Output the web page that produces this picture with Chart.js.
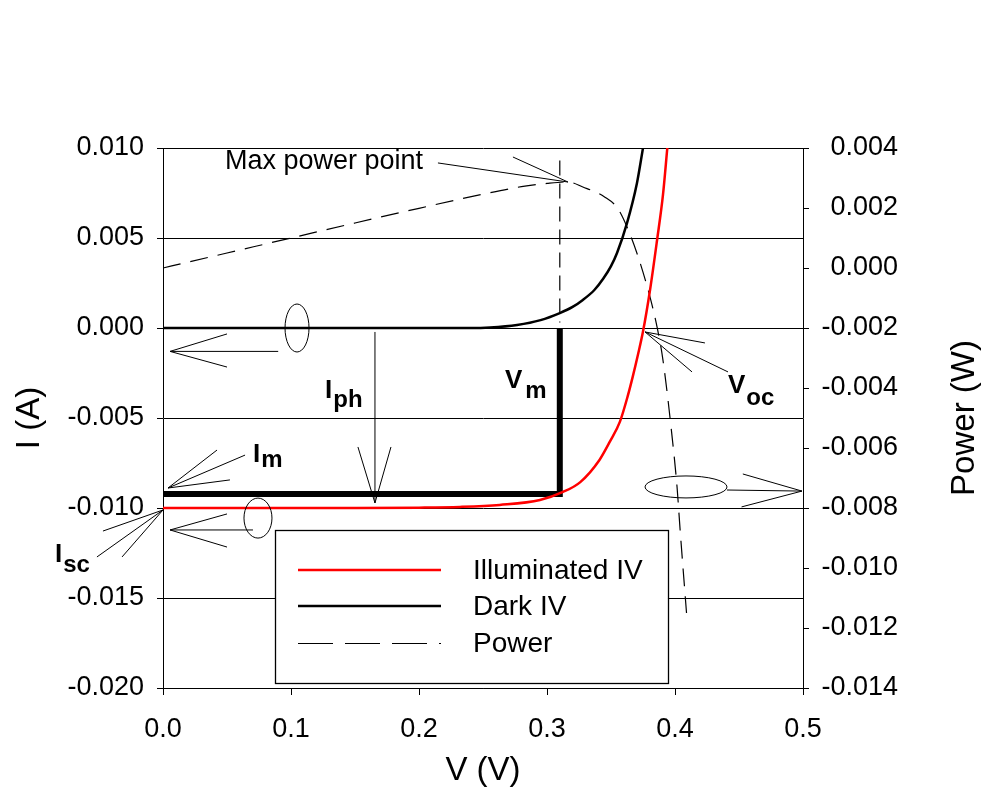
<!DOCTYPE html>
<html><head><meta charset="utf-8">
<script src="https://cdn.jsdelivr.net/npm/chart.js@4/dist/chart.umd.min.js"></script>
<style>html,body{margin:0;padding:0;background:#fff}canvas{display:block}</style>
</head><body>
<canvas id="c" width="983" height="792"></canvas>
<script>
// ---------- data ----------
const vIllum = [0, 0.05, 0.10, 0.15, 0.20, 0.232, 0.263, 0.2945, 0.3125, 0.326, 0.341, 0.349, 0.357, 0.363, 0.367, 0.371, 0.375, 0.3805, 0.386, 0.3906, 0.394];
const iIllum = [-0.0100, -0.0100, -0.0100, -0.0100, -0.00998, -0.00994, -0.00983, -0.00956, -0.00911, -0.00856, -0.00733, -0.00633, -0.00520, -0.00380, -0.00270, -0.00150, -0.00020, 0.00211, 0.00489, 0.00739, 0.0100];

const vDark = [0, 0.05, 0.10, 0.15, 0.20, 0.24, 0.2555, 0.2766, 0.295, 0.310, 0.320, 0.328, 0.337, 0.344, 0.350, 0.3547, 0.3625, 0.3703, 0.375];
const iDark = [0, 0, 0, 0, 0, 0, 0.00003, 0.00017, 0.00044, 0.00083, 0.00117, 0.00156, 0.00211, 0.00275, 0.00344, 0.00417, 0.00583, 0.00806, 0.0100];

const vPower = [0, 0.05, 0.10, 0.15, 0.20, 0.25, 0.28, 0.30, 0.316, 0.328, 0.345, 0.355, 0.3625, 0.371, 0.3805, 0.386, 0.3906, 0.398, 0.4016, 0.404, 0.409];
const pPower = [0, 0.00050, 0.00100, 0.00150, 0.00199, 0.00246, 0.00271, 0.00282, 0.00287, 0.00270, 0.00237, 0.00200, 0.00137, 0.00040, -0.00097, -0.00197, -0.00307, -0.00573, -0.00730, -0.00873, -0.01150];

const vMaxRect = [0, 0.31, 0.31];
const iMaxRect = [-0.00922, -0.00922, 0.0];
const vMaxGuide = [0.31, 0.31];
const iMaxGuide = [0.0093, 0.0003];

const seriesNames = ['Illuminated IV', 'Dark IV', 'Power'];

const vTicks = [0, 0.1, 0.2, 0.3, 0.4, 0.5];
const vTickLabels = ['0.0', '0.1', '0.2', '0.3', '0.4', '0.5'];
const iTicks = [-0.020, -0.015, -0.010, -0.005, 0.000, 0.005, 0.010];
const iTickLabels = ['-0.020', '-0.015', '-0.010', '-0.005', '0.000', '0.005', '0.010'];
const pTicks = [-0.014, -0.012, -0.010, -0.008, -0.006, -0.004, -0.002, 0.000, 0.002, 0.004];
const pTickLabels = ['-0.014', '-0.012', '-0.010', '-0.008', '-0.006', '-0.004', '-0.002', '0.000', '0.002', '0.004'];

const axisTitles = { x: 'V (V)', y: 'I (A)', y2: 'Power (W)' };

// ---------- annotations (anchors in data units: [V, I]) ----------
const leaderLines = [
  [[0.090, -0.0013], [0.0055, -0.0013]], [[0.050, -0.00033], [0.0055, -0.0013]], [[0.050, -0.00217], [0.0055, -0.0013]],
  [[0.0703, -0.01122], [0.0055, -0.01122]], [[0.050, -0.01033], [0.0055, -0.01122]], [[0.050, -0.01217], [0.0055, -0.01122]],
  [[0.4406, -0.0090], [0.4992, -0.00906]], [[0.453, -0.00811], [0.4992, -0.00906]], [[0.452, -0.00994], [0.4992, -0.00906]],
  [[0.1656, -0.00022], [0.1656, -0.00972]], [[0.1523, -0.00661], [0.1656, -0.00972]], [[0.1781, -0.00661], [0.1656, -0.00972]],
  [[0.2148, 0.00917], [0.3164, 0.00811]], [[0.2734, 0.0095], [0.3164, 0.00811]],
  [[0.0641, -0.00706], [0.0039, -0.00889]], [[0.0422, -0.00678], [0.0039, -0.00889]], [[0.0523, -0.00844], [0.0039, -0.00889]],
  [[-0.0516, -0.01272], [0.0, -0.01011]], [[-0.0469, -0.01128], [0.0, -0.01011]], [[-0.032, -0.01272], [0.0, -0.01011]],
  [[0.4414, -0.00244], [0.3766, -0.00022]], [[0.4234, -0.00083], [0.3766, -0.00022]], [[0.4133, -0.00244], [0.3766, -0.00022]]
];
const ellipses = [
  { at: [0.1047, 0.0], rx: 12, ry: 24 },
  { at: [0.0742, -0.01056], rx: 14, ry: 20 },
  { at: [0.4086, -0.00883], rx: 41, ry: 11 }
];
const plainLabels = [{ text: 'Max power point', at: [0.0484, 0.00922] }];
const subLabels = [
  { main: 'I', sub: 'ph', at: [0.1266, -0.00389], shift: 9 },
  { main: 'V', sub: 'm', at: [0.2672, -0.00333], shift: 10, gap: 3 },
  { main: 'V', sub: 'oc', at: [0.4414, -0.00361], shift: 12, gap: 1 },
  { main: 'I', sub: 'm', at: [0.0703, -0.00744], shift: 5 },
  { main: 'I', sub: 'sc', at: [-0.0844, -0.0130], shift: 10 }
];
const legendBox = { from: [0.0875, -0.01122], to: [0.3945, -0.01972] };

const FONT = "'Liberation Sans', Arial, sans-serif";

const pts = (xs, ys) => xs.map((v, k) => ({ x: v, y: ys[k] }));

const annotPlugin = {
  id: 'annot',
  afterDatasetsDraw(chart) {
    const ctx = chart.ctx, xs = chart.scales.x, ys = chart.scales.y;
    const X = v => xs.getPixelForValue(v), Y = i => ys.getPixelForValue(i);
    ctx.save();
    // legend
    const lx = X(legendBox.from[0]), ly = Y(legendBox.from[1]);
    const rx = X(legendBox.to[0]), ry = Y(legendBox.to[1]);
    ctx.fillStyle = '#fff';
    ctx.fillRect(lx, ly, rx - lx, ry - ly);
    ctx.strokeStyle = '#000'; ctx.lineWidth = 1.3;
    ctx.strokeRect(Math.round(lx) + 0.5, Math.round(ly) + 0.5, Math.round(rx - lx), Math.round(ry - ly));
    const rows = [40, 76, 113];
    seriesNames.forEach((name, k) => {
      const ds = chart.data.datasets[k];
      ctx.beginPath();
      ctx.strokeStyle = ds.borderColor;
      ctx.lineWidth = ds.borderWidth;
      ctx.setLineDash(ds.borderDash ? [35, 12] : []);
      const yy = Math.round(ly + rows[k]) + (ds.borderWidth < 2 ? 0.5 : 0);
      ctx.moveTo(lx + 23, yy); ctx.lineTo(lx + 166, yy);
      ctx.stroke();
      ctx.setLineDash([]);
      ctx.fillStyle = '#000';
      ctx.font = `28px ${FONT}`;
      ctx.textBaseline = 'middle'; ctx.textAlign = 'left';
      ctx.fillText(name, lx + 198, ly + rows[k] + 1);
    });
    // leader lines / arrows
    ctx.strokeStyle = '#000'; ctx.lineWidth = 1; ctx.setLineDash([]);
    for (const s of leaderLines) {
      ctx.beginPath();
      ctx.moveTo(X(s[0][0]), Y(s[0][1]));
      ctx.lineTo(X(s[1][0]), Y(s[1][1]));
      ctx.stroke();
    }
    for (const e of ellipses) {
      ctx.beginPath();
      ctx.ellipse(X(e.at[0]), Y(e.at[1]), e.rx, e.ry, 0, 0, Math.PI * 2);
      ctx.stroke();
    }
    // labels
    ctx.fillStyle = '#000';
    ctx.font = `27px ${FONT}`;
    ctx.textBaseline = 'middle'; ctx.textAlign = 'left';
    for (const t of plainLabels) ctx.fillText(t.text, X(t.at[0]), Y(t.at[1]));
    ctx.textBaseline = 'alphabetic';
    for (const s of subLabels) {
      const x = X(s.at[0]), y = Y(s.at[1]);
      ctx.font = `bold 26px ${FONT}`;
      ctx.fillText(s.main, x, y);
      const w = ctx.measureText(s.main).width;
      ctx.font = `bold 24px ${FONT}`;
      ctx.fillText(s.sub, x + w + (s.gap || 1), y + s.shift);
    }
    // right axis title (reads bottom-to-top)
    const ca = chart.chartArea;
    ctx.save();
    ctx.translate(chart.width - 18, (ca.top + ca.bottom) / 2);
    ctx.rotate(-Math.PI / 2);
    ctx.font = `33px ${FONT}`;
    ctx.textAlign = 'center'; ctx.textBaseline = 'middle';
    ctx.fillText(axisTitles.y2, 0, 0);
    ctx.restore();
    ctx.restore();
  }
};

const tickFont = { family: FONT, size: 27 };
const titleFont = { family: FONT, size: 33, lineHeight: 1 };

new Chart(document.getElementById('c'), {
  type: 'line',
  data: {
    datasets: [
      { label: seriesNames[0], data: pts(vIllum, iIllum), borderColor: '#ff0000', borderWidth: 2.5, yAxisID: 'y', cubicInterpolationMode: 'monotone' },
      { label: seriesNames[1], data: pts(vDark, iDark), borderColor: '#000000', borderWidth: 2.5, yAxisID: 'y', cubicInterpolationMode: 'monotone' },
      { label: seriesNames[2], data: pts(vPower, pPower), borderColor: '#000000', borderWidth: 1.2, borderDash: [18, 10], yAxisID: 'y2', cubicInterpolationMode: 'monotone' },
      { label: 'max rect', data: pts(vMaxRect, iMaxRect), borderColor: '#000000', borderWidth: 6, borderJoinStyle: 'miter', yAxisID: 'y' },
      { label: 'max guide', data: pts(vMaxGuide, iMaxGuide), borderColor: '#000000', borderWidth: 1.2, borderDash: [15, 8], yAxisID: 'y' }
    ]
  },
  options: {
    responsive: false,
    animation: false,
    devicePixelRatio: 1,
    layout: { padding: { top: 148, right: 85, left: 0, bottom: 0 } },
    elements: { point: { radius: 0 }, line: { tension: 0 } },
    plugins: { legend: { display: false }, tooltip: { enabled: false } },
    scales: {
      x: {
        type: 'linear', position: 'bottom', min: 0, max: 0.5,
        afterBuildTicks: s => { s.ticks = vTicks.map(v => ({ value: v })); },
        afterFit: s => { s.height = 104; },
        ticks: { font: tickFont, color: '#000', padding: 18, maxRotation: 0, callback: (v, k) => vTickLabels[k] },
        grid: { drawOnChartArea: false, drawTicks: true, tickLength: 7, color: '#000', lineWidth: 1 },
        border: { display: true, color: '#000', width: 1 },
        title: { display: true, text: axisTitles.x, font: titleFont, color: '#000', padding: { top: 0, bottom: 4.5 } }
      },
      y: {
        type: 'linear', position: 'left', min: -0.020, max: 0.010,
        afterBuildTicks: s => { s.ticks = iTicks.map(v => ({ value: v })); },
        afterFit: s => { s.width = 163; },
        ticks: { font: tickFont, color: '#000', padding: 13, callback: (v, k) => iTickLabels[k] },
        grid: { drawOnChartArea: true, drawTicks: true, tickLength: 6, color: '#000', lineWidth: 1 },
        border: { display: true, color: '#000', width: 1 },
        title: { display: true, text: axisTitles.y, font: titleFont, color: '#000', padding: { top: 13.5, bottom: 0 } }
      },
      y2: {
        type: 'linear', position: 'right', min: -0.014, max: 0.004,
        afterBuildTicks: s => { s.ticks = pTicks.map(v => ({ value: v })); },
        afterFit: s => { s.width = 95; },
        ticks: { font: tickFont, color: '#000', padding: 12, crossAlign: 'far', callback: (v, k) => pTickLabels[k] },
        grid: { drawOnChartArea: false, drawTicks: true, tickLength: 6, color: '#000', lineWidth: 1 },
        border: { display: true, color: '#000', width: 1 }
      }
    }
  },
  plugins: [annotPlugin]
});
</script>
</body></html>
